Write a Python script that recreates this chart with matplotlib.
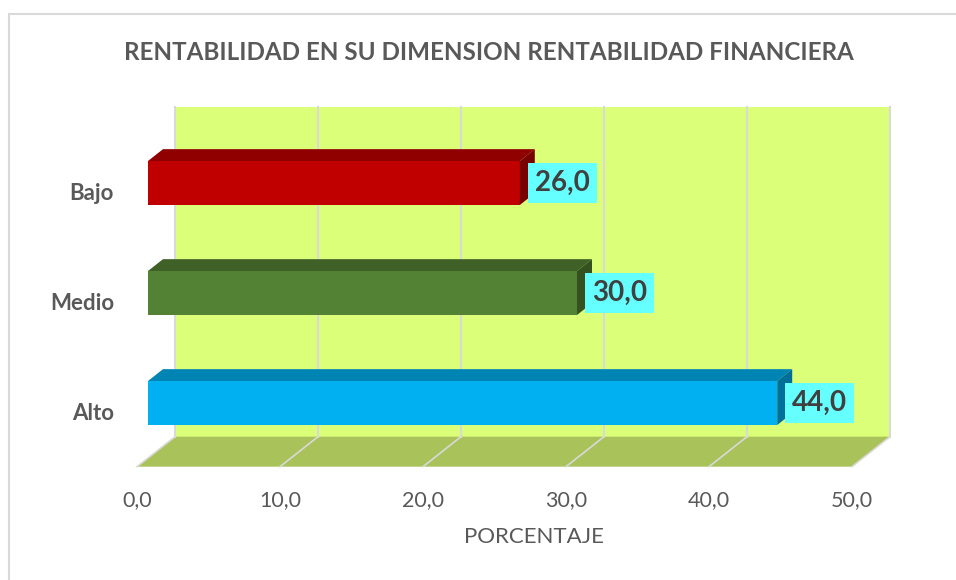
import matplotlib.pyplot as plt
from matplotlib.patches import Polygon, Rectangle
from matplotlib.transforms import IdentityTransform, ScaledTranslation

plt.rcParams['font.family'] = ['Lato', 'DejaVu Sans']

# datos
categorias = ['Alto', 'Medio', 'Bajo']
porcentajes = [44.0, 30.0, 26.0]
colores = ['#00B0F0', '#548235', '#C00000']
colores_top = ['#0084B4', '#3F6127', '#900000']
colores_lado = ['#006F98', '#34521F', '#780000']
ticks = [0, 10, 20, 30, 40, 50]
tick_labels = ['0,0', '10,0', '20,0', '30,0', '40,0', '50,0']
titulo = 'RENTABILIDAD EN SU DIMENSION RENTABILIDAD FINANCIERA'
xlabel = 'PORCENTAJE'

W, H = 956, 580
fig = plt.figure(figsize=(W / 100, H / 100), dpi=100)
ax = fig.add_axes([148 / W, 122 / H, 715 / W, 330 / H])
ax.set_xlim(0, 50)
ax.set_ylim(-0.5, 2.5)
ax.set_autoscale_on(False)
ax.axis('off')

# vector de profundidad (pixeles por unidad)
DX, DY = 38, 30
d_front, d_back, d_bar = -11 / 38, 27 / 38, 15 / 38
gris = '#595959'


def pt(x, y, d):
    px, py = ax.transData.transform((x, y))
    return (px + d * DX, py + d * DY)


def poly(points, color, z, **kw):
    ax.add_patch(Polygon(points, closed=True, fc=color, ec='none',
                         transform=IdentityTransform(), clip_on=False,
                         zorder=z, **kw))


# pared y piso
y0, y1 = -0.5, 2.5
poly([pt(0, y0, d_back), pt(50, y0, d_back), pt(50, y1, d_back), pt(0, y1, d_back)],
     '#DBFF78', 0)
poly([pt(0, y0, d_front), pt(50, y0, d_front), pt(50, y0, d_back), pt(0, y0, d_back)],
     '#A9C25A', 0)
for t in ticks:
    a, b = pt(t, y0, d_back), pt(t, y1, d_back)
    ax.add_line(plt.Line2D([a[0], b[0]], [a[1], b[1]], color='#D9D9D9', lw=1.5,
                           transform=IdentityTransform(), clip_on=False, zorder=1))
    c = pt(t, y0, d_front)
    ax.add_line(plt.Line2D([c[0], a[0]], [c[1], a[1]], color='#D9D9D9', lw=1.2,
                           transform=IdentityTransform(), clip_on=False, zorder=1))

# barras
h = 0.4
ypos = range(len(categorias))
ax.barh(ypos, porcentajes, height=h, color=colores, zorder=3)
for i, v in enumerate(porcentajes):
    poly([pt(0, i + h / 2, 0), pt(v, i + h / 2, 0), pt(v, i + h / 2, d_bar),
          pt(0, i + h / 2, d_bar)], colores_top[i], 3)
    poly([pt(v, i - h / 2, 0), pt(v, i + h / 2, 0), pt(v, i + h / 2, d_bar),
          pt(v, i - h / 2, d_bar)], colores_lado[i], 3)
    ax.annotate(f'{v:.1f}'.replace('.', ','), xy=(v, i), xytext=(15, 0),
                textcoords='offset pixels', ha='left', va='center',
                fontsize=20, fontweight='bold', color='#404040', zorder=4,
                bbox=dict(boxstyle='square,pad=0.25', fc='#66FFFF', ec='none'))

# etiquetas de ejes
px = 1 / 100
for t, lab in zip(ticks, tick_labels):
    ax.text(t, 0, lab, transform=ax.get_xaxis_transform()
            + ScaledTranslation(-11 * px, -32 * px, fig.dpi_scale_trans),
            ha='center', va='top', fontsize=15.5, color=gris)
for i, lab in enumerate(categorias):
    ax.text(0, i, lab, transform=ax.transData
            + ScaledTranslation(-34 * px, -10 * px, fig.dpi_scale_trans),
            ha='right', va='center', fontsize=16, fontweight='bold', color=gris)

fig.text(534 / W, 1 - 537 / H, xlabel, ha='center', va='center', fontsize=16,
         color=gris)
fig.text(489 / W, 1 - 52 / H, titulo, ha='center', va='center', fontsize=17.4,
         fontweight='bold', color=gris)

# borde del grafico
fig.add_artist(Rectangle((9 / W, -0.1), 2, 1.1 - 14 / H, transform=fig.transFigure,
                         fill=False, ec='#D9D9D9', lw=1.5))

fig.savefig('out.png', dpi=100)
